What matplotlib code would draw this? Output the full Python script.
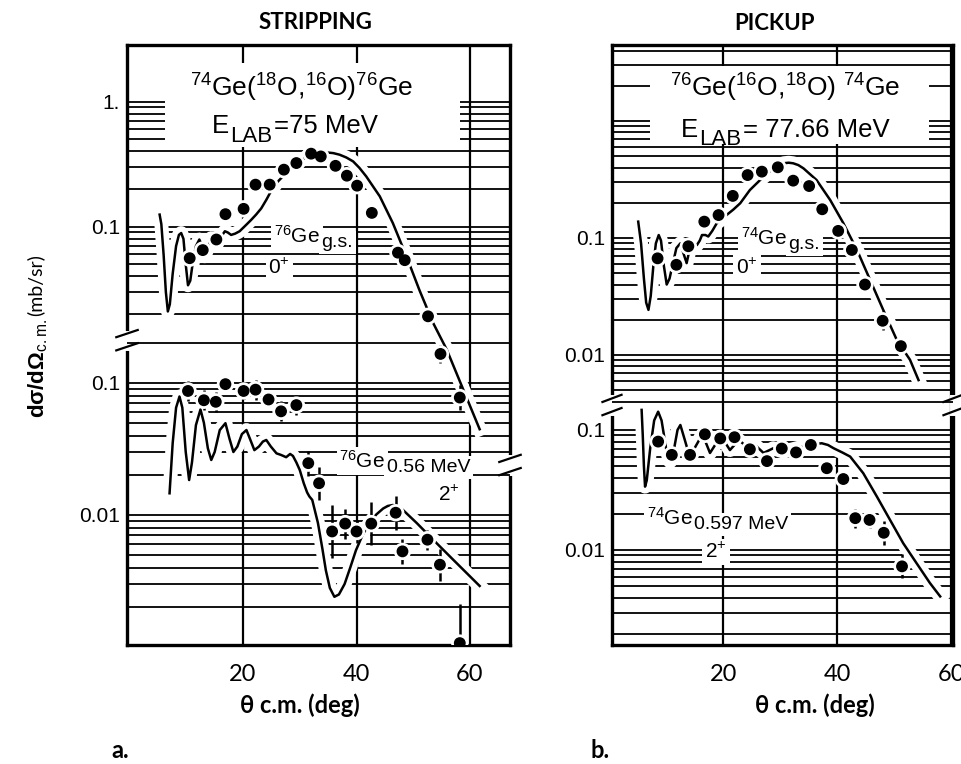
import matplotlib

matplotlib.use("Agg")
import matplotlib.pyplot as plt              # noqa: E402
import matplotlib.patheffects as pe          # noqa: E402
from matplotlib.patches import Rectangle     # noqa: E402
import numpy as np                           # noqa: E402

plt.rcParams["font.family"] = ["Liberation Sans", "DejaVu Sans"]
plt.rcParams["mathtext.fontset"] = "custom"
plt.rcParams["mathtext.rm"] = "Liberation Sans"
plt.rcParams["mathtext.it"] = "Liberation Sans:italic"
plt.rcParams["mathtext.bf"] = "Liberation Sans:bold"

LABEL_FONT = ["Lato", "DejaVu Sans"]

# ---- (18O,16O) stripping, ground state ----------------------------------
strip_gs_theta = [10.6, 12.9, 15.3, 16.9, 20.1, 22.2, 24.7, 27.2, 29.4, 32.0,
                  33.7, 36.3, 38.3, 40.1, 42.7, 47.3, 48.5, 52.6, 54.8, 58.2]
strip_gs_sigma = [0.056, 0.065, 0.079, 0.126, 0.139, 0.217, 0.217, 0.286,
                  0.323, 0.384, 0.365, 0.307, 0.256, 0.213, 0.129, 0.062,
                  0.054, 0.0192, 0.0096, 0.0043]
strip_gs_err = [0.05, 0.04, 0.04, 0, 0, 0, 0, 0, 0, 0,
                0, 0, 0, 0, 0.05, 0, 0, 0.06, 0.07, 0.1]   # dex
strip_gs_calc_theta = [5.3, 5.6, 6.0, 6.4, 6.75, 7.1, 7.6, 8.2, 8.7, 9.1,
                       9.5, 9.9, 10.3, 10.7, 11.2, 11.7, 12.3, 12.8, 13.2,
                       13.7, 14.4, 14.9, 15.3, 15.9, 16.8, 17.3, 17.9, 18.6,
                       19.4, 20.6, 21.4, 22.3, 23.2, 24.1, 25.0, 25.9, 27.6,
                       30.0, 31.2, 32.3, 33.5, 34.7, 35.9, 37.0, 38.2, 39.4,
                       40.5, 41.7, 44.1, 46.4, 48.8, 51.1, 53.5, 55.9, 61.7]
strip_gs_calc = [0.125, 0.105, 0.06, 0.03, 0.021, 0.024, 0.042, 0.07, 0.086,
                 0.089, 0.08, 0.05, 0.034, 0.037, 0.054, 0.07, 0.079, 0.07,
                 0.058, 0.066, 0.081, 0.078, 0.072, 0.08, 0.092, 0.09, 0.086,
                 0.088, 0.092, 0.104, 0.113, 0.125, 0.14, 0.164, 0.195, 0.224,
                 0.269, 0.333, 0.362, 0.384, 0.392, 0.393, 0.388, 0.377,
                 0.358, 0.333, 0.296, 0.253, 0.175, 0.107, 0.058, 0.031,
                 0.017, 0.0104, 0.0024]

# ---- stripping, 0.56 MeV 2+ ---------------------------------------------
strip_ex_theta = [10.3, 13.1, 15.2, 16.9, 20.1, 22.2, 24.5, 26.7, 29.4, 31.5,
                  33.4, 35.7, 38.0, 40.0, 42.6, 46.9, 48.1, 52.5, 54.7, 58.2]
strip_ex_sigma = [0.087, 0.074, 0.072, 0.098, 0.087, 0.089, 0.075, 0.061,
                  0.068, 0.0247, 0.0174, 0.0075, 0.0086, 0.0075, 0.0086,
                  0.0104, 0.0053, 0.0065, 0.0042, 0.00107]
strip_ex_err = [0.076, 0.076, 0.076, 0.05, 0.06, 0.076, 0.057, 0.076, 0.076,
                0.095, 0.126, 0.2, 0.114, 0.09, 0.164, 0.13, 0.095, 0.076,
                0.12, 0.3]
strip_ex_calc_theta = [7.05, 7.6, 8.2, 8.8, 9.3, 9.9, 10.5, 11.0, 11.7, 12.5,
                       13.1, 13.8, 14.4, 15.0, 15.9, 16.9, 17.6, 18.3, 19.0,
                       19.8, 20.6, 21.3, 22.0, 22.8, 23.5, 24.1, 24.9, 25.9,
                       26.7, 27.6, 28.3, 28.8, 29.4, 30.0, 30.7, 31.3, 31.7,
                       32.2, 33.2, 34.0, 34.6, 35.3, 36.1, 36.9, 37.9, 38.9,
                       39.9, 41.1, 42.3, 43.5, 44.7, 45.5, 46.4, 47.3, 48.2,
                       50.6, 53.5, 57.0, 61.7]
strip_ex_calc = [0.0146, 0.035, 0.065, 0.079, 0.065, 0.03, 0.0184, 0.025,
                 0.048, 0.063, 0.05, 0.032, 0.0261, 0.03, 0.044, 0.0496,
                 0.038, 0.030, 0.033, 0.041, 0.044, 0.037, 0.031, 0.033,
                 0.036, 0.037, 0.033, 0.0293, 0.0285, 0.0274, 0.029, 0.028,
                 0.025, 0.0219, 0.0174, 0.0148, 0.0138, 0.013, 0.0087, 0.0055,
                 0.0038, 0.0028, 0.0024, 0.0025, 0.0030, 0.0040, 0.0054,
                 0.0071, 0.0087, 0.0101, 0.0112, 0.0117, 0.0119, 0.0116,
                 0.0109, 0.0087, 0.0065, 0.0046, 0.0029]

# ---- (16O,18O) pickup, ground state -------------------------------------
pick_gs_theta = [8.5, 11.8, 13.9, 16.7, 19.2, 21.7, 24.3, 26.8, 29.6, 32.3,
                 35.1, 37.4, 40.2, 42.6, 44.9, 48.0, 51.2]
pick_gs_sigma = [0.067, 0.059, 0.085, 0.138, 0.157, 0.229, 0.345, 0.369,
                 0.402, 0.309, 0.278, 0.176, 0.115, 0.079, 0.040, 0.0196,
                 0.0119]
pick_gs_err = [0, 0, 0, 0, 0, 0, 0, 0, 0, 0, 0, 0, 0, 0, 0, 0.08, 0.06]
pick_gs_calc_theta = [5.1, 5.6, 6.1, 6.5, 6.9, 7.3, 7.8, 8.2, 8.7, 9.1, 9.6,
                      10.1, 10.6, 11.2, 11.8, 12.5, 13.0, 13.6, 14.0, 14.5,
                      15.0, 15.4, 15.9, 16.3, 16.9, 17.4, 18.1, 18.9, 20.6,
                      21.8, 23.0, 24.7, 26.5, 28.5, 29.5, 30.6, 31.5, 32.3,
                      33.2, 34.1, 36.4, 38.8, 41.1, 43.5, 45.8, 48.1, 50.5,
                      52.8, 54.3]
pick_gs_calc = [0.138, 0.09, 0.045, 0.028, 0.0243, 0.032, 0.061, 0.09, 0.106,
                0.095, 0.058, 0.040, 0.045, 0.061, 0.082, 0.090, 0.075, 0.061,
                0.075, 0.090, 0.090, 0.087, 0.095, 0.106, 0.106, 0.103, 0.115,
                0.134, 0.157, 0.175, 0.198, 0.257, 0.313, 0.381, 0.41, 0.435,
                0.44, 0.435, 0.42, 0.394, 0.313, 0.211, 0.134, 0.079, 0.0438,
                0.0243, 0.0134, 0.0091, 0.0061]

# ---- pickup, 0.597 MeV 2+ -----------------------------------------------
pick_ex_theta = [8.6, 11.0, 14.2, 16.8, 19.5, 22.0, 24.7, 27.7, 30.3, 32.8,
                 35.4, 38.2, 41.1, 43.2, 45.7, 48.2, 51.4]
pick_ex_sigma = [0.080, 0.062, 0.062, 0.092, 0.085, 0.087, 0.069, 0.055,
                 0.070, 0.065, 0.075, 0.048, 0.039, 0.0184, 0.0178, 0.0139,
                 0.0073]
pick_ex_err = [0.03, 0.03, 0.03, 0.03, 0.03, 0.03, 0.03, 0.03, 0.03, 0.03,
               0.03, 0.04, 0.04, 0.08, 0.07, 0.1, 0.1]
pick_ex_calc_theta = [5.7, 5.9, 6.1, 6.3, 6.6, 7.2, 7.9, 8.6, 9.2, 10.0, 10.7,
                      11.4, 12.0, 12.5, 13.2, 14.2, 15.1, 16.3, 16.9, 17.7,
                      18.6, 19.5, 20.4, 21.2, 22.0, 22.7, 23.5, 24.2, 25.6,
                      27.1, 28.8, 30.6, 32.9, 35.3, 37.3, 38.4, 39.4, 40.9,
                      42.3, 44.6, 47.0, 49.3, 51.6, 54.0, 56.3, 58.1]
pick_ex_calc = [0.147, 0.09, 0.05, 0.0337, 0.038, 0.07, 0.12, 0.142, 0.12,
                0.07, 0.0545, 0.07, 0.1, 0.110, 0.085, 0.0584, 0.072, 0.0908,
                0.08, 0.0643, 0.075, 0.088, 0.078, 0.068, 0.075, 0.0826,
                0.077, 0.0704, 0.075, 0.0643, 0.0704, 0.0659, 0.0704, 0.075,
                0.0775, 0.075, 0.0704, 0.065, 0.060, 0.0436, 0.0278, 0.0178,
                0.0114, 0.0077, 0.0053, 0.0041]

x_ticks = [20, 40, 60]

CURVE_HALO = [pe.Stroke(linewidth=10, foreground="white"), pe.Normal()]
POINT_HALO = [pe.Stroke(linewidth=5, foreground="white"), pe.Normal()]
BOX = dict(facecolor="white", edgecolor="none", pad=2)


def log_paper(ax, lo, hi):
    """Horizontal rulings of semi-log paper between lo and hi."""
    for n in range(-4, 1):
        for k in range(1, 10):
            v = k * 10.0 ** n
            if lo <= v <= hi:
                ax.axhline(v, color="k", lw=1.3, zorder=1)


def overlay(fig, rect, frame, ylim, ticks, ticklabels):
    ax = fig.add_axes(rect, sharex=frame)
    ax.set_yscale("log")
    ax.set_ylim(*ylim)
    ax.patch.set_visible(False)
    ax.set_frame_on(False)
    ax.xaxis.set_visible(False)
    ax.yaxis.set_minor_locator(matplotlib.ticker.NullLocator())
    ax.set_yticks(ticks)
    ax.set_yticklabels(ticklabels)
    ax.tick_params(axis="y", length=0, labelsize=15, pad=5)
    return ax


def draw_set(ax, th, sig, err, cth, calc):
    ax.plot(cth, calc, color="k", lw=1.8, zorder=3, path_effects=CURVE_HALO)
    sig = np.asarray(sig)
    err = np.asarray(err)
    yerr = [sig * (1 - 10.0 ** -err), sig * (10.0 ** err - 1)]
    ax.errorbar(th, sig, yerr=yerr, fmt="none", ecolor="k",
                elinewidth=1.8, capsize=0, zorder=4)
    ax.plot(th, sig, "o", ms=7.5, color="k", zorder=5,
            path_effects=POINT_HALO)


def clearing(ax, x0, y0, x1, y1):
    # blank patch of paper behind the reaction labels
    ax.add_patch(Rectangle((x0, y0), x1 - x0, y1 - y0, transform=ax.transAxes,
                           facecolor="white", edgecolor="none", zorder=2))


def break_mark(ax, xf, yf):
    tr = ax.transAxes
    ax.plot([xf, xf], [yf - 0.011, yf + 0.011], color="white", lw=5,
            transform=tr, clip_on=False, zorder=5)
    for off in (-0.011, 0.011):
        ax.plot([xf - 0.028, xf + 0.028], [yf + off - 0.006, yf + off + 0.006],
                color="k", lw=1.6, transform=tr, clip_on=False, zorder=6)


def sub_label(ax, x, y, head, sub, size, subsize, drop=3):
    """Nucleus symbol with a full-height level subscript."""
    t = ax.text(x, y, head, transform=ax.transAxes, ha="right", va="baseline",
                fontsize=size, zorder=10, bbox=BOX)
    ax.annotate(sub, xy=(1, 0), xycoords=t, xytext=(1, -drop),
                textcoords="offset points", ha="left", va="bottom",
                fontsize=subsize, zorder=10, bbox=BOX)


def elab_label(ax, x, y, value):
    e = ax.text(x, y, "E", transform=ax.transAxes, ha="right", va="baseline",
                fontsize=18.5, zorder=10)
    lab = ax.annotate("LAB", xy=(1, 0), xycoords=e, xytext=(1, -6),
                      textcoords="offset points", ha="left", va="bottom",
                      fontsize=16, zorder=10)
    ax.annotate(value, xy=(1, 0), xycoords=(lab, e), xytext=(1, 0),
                textcoords="offset points", ha="left", va="bottom",
                fontsize=18.5, zorder=10)


def frame_axes(fig, rect, xlim):
    ax = fig.add_axes(rect)
    ax.set_xlim(*xlim)
    ax.set_ylim(0, 1)
    ax.set_yticks([])
    ax.set_xticks(x_ticks)
    ax.tick_params(axis="x", length=0, labelsize=17, pad=14)
    for lab in ax.get_xticklabels():
        lab.set_family(LABEL_FONT)
    for x in x_ticks:
        ax.axvline(x, color="k", lw=1.6, zorder=1)
    for sp in ax.spines.values():
        sp.set_linewidth(2.4)
    return ax


fig = plt.figure(figsize=(9.61, 7.64), dpi=100)

# ---------------- a. stripping ----------------
rect_a = [127 / 961, 119 / 764, 383 / 961, 600 / 764]
fa = frame_axes(fig, rect_a, (-0.45, 67.05))
lo_a = overlay(fig, rect_a, fa, (10 ** -2.985, 10 ** 1.5606),
               [0.1, 0.01], ["0.1", "0.01"])
up_a = overlay(fig, rect_a, fa, (10 ** -4.346, 10 ** 0.4536),
               [1, 0.1], ["1.", "0.1"])
log_paper(lo_a, 0.00104, 0.21)
log_paper(up_a, 0.0125, 1.0)
clearing(up_a, 0.10, 0.83, 0.87, 0.97)
draw_set(lo_a, strip_ex_theta, strip_ex_sigma, strip_ex_err,
         strip_ex_calc_theta, strip_ex_calc)
draw_set(up_a, strip_gs_theta, strip_gs_sigma, strip_gs_err,
         strip_gs_calc_theta, strip_gs_calc)
break_mark(fa, 0.0, 0.508)
break_mark(fa, 1.0, 0.300)

up_a.text(0.456, 0.928, r"$^{74}$Ge($^{18}$O,$^{16}$O)$^{76}$Ge",
          transform=up_a.transAxes, ha="center", va="center", fontsize=19,
          zorder=10)
elab_label(up_a, 0.266, 0.853, "=75 MeV")
sub_label(up_a, 0.504, 0.670, r"$^{76}$Ge", "g.s.", 15, 14)
up_a.text(0.397, 0.628, r"0$^{+}$", transform=up_a.transAxes, ha="center",
          va="center", fontsize=15, zorder=10, bbox=BOX)
sub_label(up_a, 0.674, 0.295, r"$^{76}$Ge", "0.56 MeV", 15, 14)
up_a.text(0.841, 0.250, r"2$^{+}$", transform=up_a.transAxes, ha="center",
          va="center", fontsize=15, zorder=10, bbox=BOX)

# ---------------- b. pickup ----------------
rect_b = [612 / 961, 119 / 764, 341 / 961, 600 / 764]
fb = frame_axes(fig, rect_b, (0.5, 60.35))
lo_b = overlay(fig, rect_b, fb, (10 ** -2.792, 10 ** 2.208),
               [0.1, 0.01], ["0.1", "0.01"])
up_b = overlay(fig, rect_b, fb, (10 ** -4.479, 10 ** 0.6496),
               [0.1, 0.01], ["0.1", "0.01"])
log_paper(lo_b, 0.0016, 0.16)
log_paper(up_b, 0.0037, 4.4)
clearing(up_b, 0.11, 0.835, 0.93, 0.965)
draw_set(lo_b, pick_ex_theta, pick_ex_sigma, pick_ex_err,
         pick_ex_calc_theta, pick_ex_calc)
draw_set(up_b, pick_gs_theta, pick_gs_sigma, pick_gs_err,
         pick_gs_calc_theta, pick_gs_calc)
break_mark(fb, 0.0, 0.400)
break_mark(fb, 1.0, 0.400)

up_b.text(0.507, 0.928, r"$^{76}$Ge($^{16}$O,$^{18}$O) $^{74}$Ge",
          transform=up_b.transAxes, ha="center", va="center", fontsize=19,
          zorder=10)
elab_label(up_b, 0.252, 0.847, "= 77.66 MeV")
sub_label(up_b, 0.513, 0.667, r"$^{74}$Ge", "g.s.", 15, 14)
up_b.text(0.396, 0.628, r"0$^{+}$", transform=up_b.transAxes, ha="center",
          va="center", fontsize=15, zorder=10, bbox=BOX)
sub_label(up_b, 0.2375, 0.200, r"$^{74}$Ge", "0.597 MeV", 15, 14)
up_b.text(0.305, 0.155, r"2$^{+}$", transform=up_b.transAxes, ha="center",
          va="center", fontsize=15, zorder=10, bbox=BOX)

# ---------------- shared labels ----------------
fig.text(0.328, 0.971, "STRIPPING", ha="center", va="center",
         fontsize=16, weight="bold", family=LABEL_FONT)
fig.text(0.806, 0.969, "PICKUP", ha="center", va="center",
         fontsize=16, weight="bold", family=LABEL_FONT)
ylab = fig.text(0.046, 1 - 418 / 764,
                r"$\mathbf{d\sigma/d\Omega}_{\rm c.m.}$",
                rotation=90, rotation_mode="anchor", ha="left",
                va="baseline", fontsize=16)
fa.annotate("(mb/sr)", xy=(0.5, 1), xycoords=ylab, xytext=(-2, 2),
            textcoords="offset points", rotation=90, ha="center",
            va="bottom", fontsize=14, family=LABEL_FONT,
            annotation_clip=False)
for xc in (0.312, 0.848):
    fig.text(xc, 0.077, "θ c.m. (deg)", ha="center", va="center",
             fontsize=17, weight="bold", family=LABEL_FONT)
fig.text(0.125, 0.018, "a.", ha="center", va="center", fontsize=17,
         weight="bold", family=LABEL_FONT)
fig.text(0.624, 0.018, "b.", ha="center", va="center", fontsize=17,
         weight="bold", family=LABEL_FONT)

fig.savefig("out.png", dpi=100)
